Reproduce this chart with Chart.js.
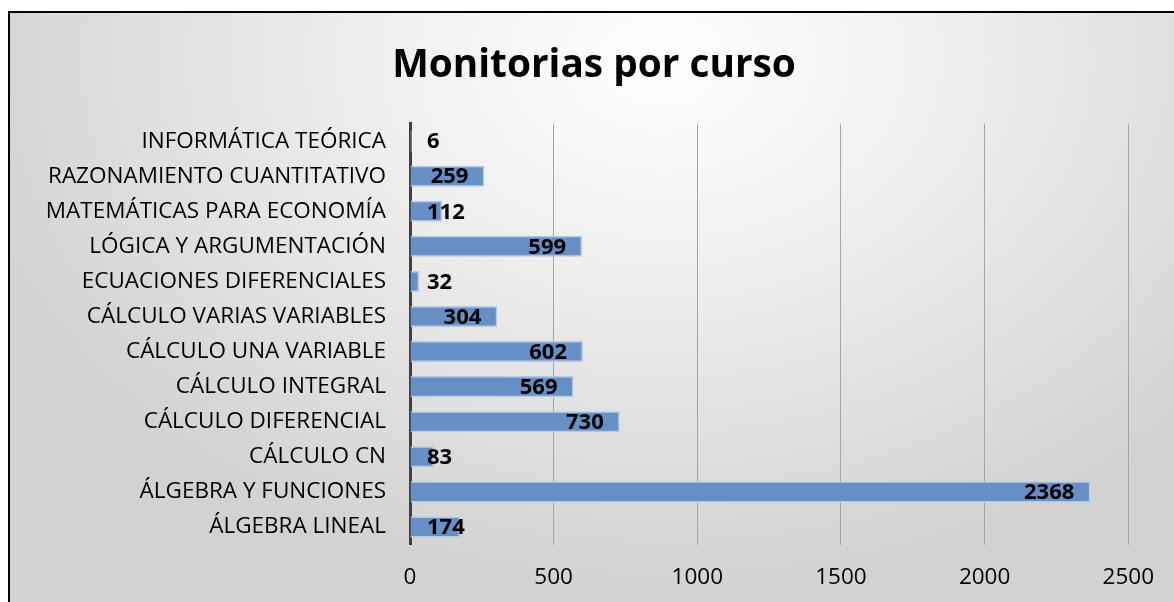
<!DOCTYPE html>
<html>
<head>
<meta charset="utf-8">
<script src="https://cdn.jsdelivr.net/npm/chart.js@4"></script>
<style>
  html, body { margin: 0; padding: 0; background: #fff; }
  #frame {
    position: absolute; left: 8px; top: 11px;
    width: 1164px; height: 589px;
    border-left: 2px solid #000; border-top: 2px solid #000;
    background: radial-gradient(ellipse 62% 90% at 56% 8%, #ffffff 0%, #efefef 40%, #d2d2d2 100%);
    overflow: hidden;
  }
</style>
</head>
<body>
<div id="frame"><canvas id="monitorias" width="1164" height="589"></canvas></div>
<script>
const cursos = [
  'INFORMÁTICA TEÓRICA',
  'RAZONAMIENTO CUANTITATIVO',
  'MATEMÁTICAS PARA ECONOMÍA',
  'LÓGICA Y ARGUMENTACIÓN',
  'ECUACIONES DIFERENCIALES',
  'CÁLCULO VARIAS VARIABLES',
  'CÁLCULO UNA VARIABLE',
  'CÁLCULO INTEGRAL',
  'CÁLCULO DIFERENCIAL',
  'CÁLCULO CN',
  'ÁLGEBRA Y FUNCIONES',
  'ÁLGEBRA LINEAL',
];
const monitorias = [6, 259, 112, 599, 32, 304, 602, 569, 730, 83, 2368, 174];
const xTicks = [0, 500, 1000, 1500, 2000, 2500];

const FONT = '"Open Sans", sans-serif';

// etiquetas tipo Excel: dentro del extremo, sin pasar del inicio
const valueLabels = {
  id: 'valueLabels',
  afterDatasetsDraw(chart) {
    const ctx = chart.ctx;
    const meta = chart.getDatasetMeta(0);
    const x0 = chart.scales.x.getPixelForValue(0);
    ctx.save();
    ctx.font = 'bold 22px ' + FONT;
    ctx.fillStyle = '#000';
    ctx.textAlign = 'right';
    ctx.textBaseline = 'middle';
    meta.data.forEach((bar, i) => {
      const txt = String(monitorias[i]);
      const w = ctx.measureText(txt).width;
      const right = Math.max(bar.x - 16, x0 + 17 + w);
      ctx.fillText(txt, right, bar.y + 1);
    });
    ctx.restore();
  }
};

new Chart(document.getElementById('monitorias'), {
  type: 'bar',
  data: {
    labels: cursos,
    datasets: [{
      data: monitorias,
      backgroundColor: 'rgb(102,143,197)',
      borderColor: 'rgb(178,202,232)',
      borderWidth: 1.5,
      barPercentage: 0.6,
      categoryPercentage: 1,
    }]
  },
  options: {
    indexAxis: 'y',
    responsive: false,
    animation: false,
    layout: { padding: { left: 4, right: 0, top: 0, bottom: 0 } },
    scales: {
      x: {
        min: 0, max: 2500,
        afterBuildTicks: (s) => { s.ticks = xTicks.map(v => ({ value: v })); },
        afterFit: (s) => { s.height = 57.5; },
        grid: { color: '#a6a6a6', lineWidth: 1, drawTicks: false },
        border: { display: false },
        ticks: {
          color: '#000', font: { family: FONT, size: 22.5 }, padding: 20,
          callback: (v) => String(v),
        },
      },
      y: {
        afterFit: (s) => { s.width = 396; },
        grid: { display: false, drawTicks: false },
        border: { color: '#404040', width: 3 },
        ticks: { color: '#000', font: { family: FONT, size: 22.5 }, padding: 24 },
      },
      // margen derecho vacío
      yRight: {
        type: 'category',
        position: 'right',
        afterFit: (s) => { s.width = 43; },
        grid: { display: false, drawTicks: false },
        border: { display: false },
        ticks: { display: false },
      }
    },
    plugins: {
      legend: { display: false },
      tooltip: { enabled: false },
      title: {
        display: true,
        text: 'Monitorias por curso',
        color: '#000',
        font: { family: FONT, size: 38.8, weight: 'bold' },
        padding: { top: 30, bottom: 34 },
      }
    }
  },
  plugins: [valueLabels]
});
</script>
</body>
</html>
